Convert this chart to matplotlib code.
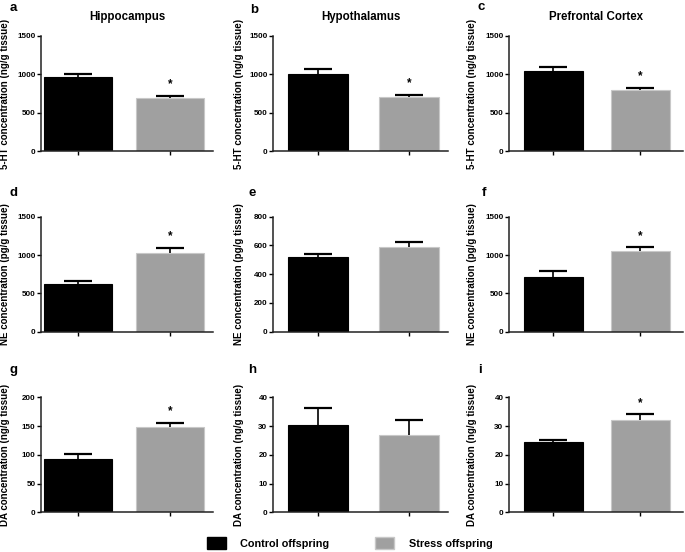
import matplotlib.pyplot as plt
from matplotlib.patches import Patch

plt.rcParams['font.family'] = ['Liberation Sans', 'DejaVu Sans']
plt.rcParams['font.weight'] = 'bold'

# Datos
groups = ['Control offspring', 'Stress offspring']
regions = ['Hippocampus', 'Hypothalamus', 'Prefrontal Cortex']
letters = [['a', 'b', 'c'], ['d', 'e', 'f'], ['g', 'h', 'i']]

ht_mean = [[960, 690], [1005, 710], [1045, 795]]
ht_sem = [[40, 30], [65, 25], [55, 30]]
ne_mean = [[620, 1020], [518, 587], [713, 1050]]
ne_sem = [[40, 75], [20, 38], [83, 50]]
da_mean = [[93, 148], [30.5, 26.9], [24.3, 32.1]]
da_sem = [[8, 7], [5.8, 5.2], [1.0, 2.0]]

ht_sig = [True, True, True]
ne_sig = [True, False, True]
da_sig = [True, False, True]

ht_ticks = [[0, 500, 1000, 1500]] * 3
ne_ticks = [[0, 500, 1000, 1500], [0, 200, 400, 600, 800], [0, 500, 1000, 1500]]
da_ticks = [[0, 50, 100, 150, 200], [0, 10, 20, 30, 40], [0, 10, 20, 30, 40]]

ylabels = ['5-HT concentration (ng/g tissue)',
           'NE concentration (pg/g tissue)',
           'DA concentration (ng/g tissue)']

colors = ['black', '#a0a0a0']
edges = ['black', '#c8c8c8']

# Posiciones en pixeles
W, H = 685, 552
col_x = [(41, 213), (273, 448), (509, 683)]
col_xlim = [(-0.40, 1.47), (-0.49, 1.43), (-0.51, 1.49)]
col_width = [0.74, 0.66, 0.68]
col_label = [10, 244, 477]
row_y = [(36, 151), (216.7, 331.7), (397.3, 512.3)]
letter_pos = [[(10, 11), (250, 13), (478, 10)],
              [(10, 196.5), (248, 196.5), (482, 196.5)],
              [(10, 373), (248, 373), (478, 373)]]

means = [ht_mean, ne_mean, da_mean]
sems = [ht_sem, ne_sem, da_sem]
sigs = [ht_sig, ne_sig, da_sig]
ticks = [ht_ticks, ne_ticks, da_ticks]

fig = plt.figure(figsize=(W / 100, H / 100), dpi=100)

for r in range(3):
    for c in range(3):
        x0, x1 = col_x[c]
        yt, yb = row_y[r]
        ax = fig.add_axes([x0 / W, 1 - yb / H, (x1 - x0) / W, (yb - yt) / H])
        m = means[r][c]
        s = sems[r][c]
        xs = [0, 1]
        ax.bar(xs, m, width=col_width[c], color=colors, edgecolor=edges, linewidth=0.8, zorder=2)
        eb = ax.errorbar(xs, m, yerr=[[0, 0], s], fmt='none', ecolor='black',
                         elinewidth=1.2, capsize=10, capthick=1.6, zorder=3)
        eb[1][0].set_visible(False)
        if sigs[r][c]:
            ax.annotate('*', (1, m[1] + s[1]), xytext=(0, 4), textcoords='offset points',
                        ha='center', va='bottom', fontsize=8.5, fontweight='bold')
        tk = ticks[r][c]
        ax.set_ylim(0, tk[-1])
        ax.set_yticks(tk)
        ax.set_xlim(*col_xlim[c])
        ax.set_xticks(xs)
        ax.set_xticklabels([])
        for side in ['top', 'right']:
            ax.spines[side].set_visible(False)
        for side in ['left', 'bottom']:
            ax.spines[side].set_linewidth(1.1)
            ax.spines[side].set_color('#222222')
        ax.tick_params(axis='y', direction='out', length=3, width=1, labelsize=5.8, pad=1)
        ax.tick_params(axis='x', direction='out', length=3, width=1)
        ax.set_ylabel(ylabels[r], fontsize=7, fontweight='bold')
        ax.yaxis.set_label_coords((col_label[c] - x0) / (x1 - x0), 0.5)
        if r == 0:
            fig.text((x0 + x1) / 2 / W, 1 - 20 / H, regions[c], ha='center', va='baseline',
                     fontsize=8.3, fontweight='bold')
        lx, ly = letter_pos[r][c]
        fig.text(lx / W, 1 - ly / H, letters[r][c], ha='left', va='baseline',
                 fontsize=9.5, fontweight='bold')

handles = [Patch(facecolor=colors[i], edgecolor=edges[i]) for i in range(2)]
fig.legend(handles, groups, loc='center', bbox_to_anchor=(349.5 / W, 1 - 543 / H),
           ncol=2, frameon=False, prop={'size': 7.8, 'weight': 'bold'},
           handlelength=1.75, handleheight=1.2, handletextpad=1.3, columnspacing=4.3)

fig.savefig('out.png', dpi=100)
